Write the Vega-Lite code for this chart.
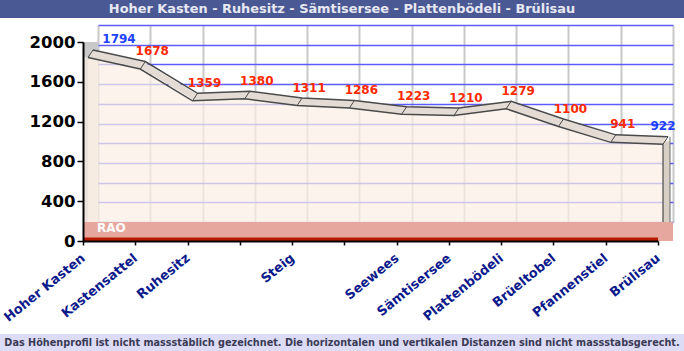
{
  "$schema": "https://vega.github.io/schema/vega-lite/v6.json",
  "padding": 0,
  "background": "white",
  "spacing": 7,
  "config": {"view": {"stroke": null}},
  "datasets": {
    "profil": [
      {"ort": "Hoher Kasten", "hoehe": 1794},
      {"ort": "Kastensattel", "hoehe": 1678},
      {"ort": "Ruhesitz", "hoehe": 1359},
      {"ort": " ", "hoehe": 1380},
      {"ort": "Steig", "hoehe": 1311},
      {"ort": "  ", "hoehe": 1286},
      {"ort": "Seewees", "hoehe": 1223},
      {"ort": "Sämtisersee", "hoehe": 1210},
      {"ort": "Plattenbödeli", "hoehe": 1279},
      {"ort": "Brüeltobel", "hoehe": 1100},
      {"ort": "Pfannenstiel", "hoehe": 941},
      {"ort": "Brülisau", "hoehe": 922}
    ]
  },
  "vconcat": [
    {
      "width": 684,
      "height": 18,
      "view": {"fill": "#4a5894", "stroke": null},
      "data": {"values": [{"t": "Hoher Kasten - Ruhesitz - Sämtisersee - Plattenbödeli - Brülisau"}]},
      "mark": {"type": "text", "font": "DejaVu Sans", "fontWeight": "bold", "fontSize": 12.9, "color": "#e6e8f2", "baseline": "middle", "align": "center"},
      "encoding": {"text": {"field": "t"}}
    },
    {
      "width": 673,
      "height": 216,
      "data": {"name": "profil"},
      "layer": [
        {
          "mark": {"type": "point", "opacity": 0},
          "encoding": {
            "x": {"field": "ort", "type": "ordinal", "sort": null,
                  "scale": {"type": "point", "padding": 0, "range": [98, 673]},
                  "axis": {"orient": "top", "labels": false, "ticks": false, "domain": false, "grid": true, "gridColor": "#c8c8c8", "gridWidth": 2, "title": null}},
            "y": {"field": "hoehe", "type": "quantitative",
                  "scale": {"domain": [0, 2000], "nice": false, "zero": false, "range": [197, 0]},
                  "axis": {"orient": "left", "values": [0, 200, 400, 600, 800, 1000, 1200, 1400, 1600, 1800, 2000], "labels": false, "ticks": false, "domain": false, "grid": true, "gridColor": "#5c5cff", "gridWidth": 1.5, "title": null}}
          }
        },
        {
          "layer": [
            {
              "transform": [{"filter": "datum.ort === 'Hoher Kasten'"}],
              "mark": {"type": "rect", "color": "#c9c9c9", "x2Offset": 15, "yOffset": -5},
              "encoding": {
                "x": {"field": "ort", "type": "ordinal", "sort": null},
                "x2": {"field": "ort"},
                "y": {"field": "hoehe", "type": "quantitative"},
                "y2": {"datum": 2000}
              }
            },
            {
              "transform": [{"filter": "datum.ort === 'Hoher Kasten'"}],
              "mark": {"type": "rect", "color": "#ece4dc", "x2Offset": 15, "yOffset": -5},
              "encoding": {
                "x": {"field": "ort", "type": "ordinal", "sort": null},
                "x2": {"field": "ort"},
                "y": {"field": "hoehe", "type": "quantitative"},
                "y2": {"datum": 0}
              }
            },
            {
              "mark": {"type": "area", "color": "#fbefe4", "opacity": 0.72, "xOffset": 5, "yOffset": -5},
              "encoding": {
                "x": {"field": "ort", "type": "ordinal", "sort": null,
                      "scale": {"type": "point", "padding": 0, "range": [83, 658]},
                      "axis": {"orient": "bottom", "title": null, "grid": false, "domain": true, "domainColor": "black", "domainWidth": 2, "tickColor": "black", "tickWidth": 1.5, "tickSize": 4, "labelAngle": -39, "labelAlign": "right", "labelBaseline": "middle", "labelPadding": 11, "labelFont": "DejaVu Sans", "labelFontWeight": "bold", "labelFontSize": 13, "labelColor": "#0c1a8c", "labelOverlap": false, "labelBound": false, "minExtent": 86, "maxExtent": 86, "zindex": 1}},
                "y": {"field": "hoehe", "type": "quantitative",
                      "scale": {"domain": [0, 2000], "nice": false, "zero": false, "range": [216, 17]},
                      "axis": {"orient": "left", "offset": -83, "title": null, "format": "d", "values": [0, 200, 400, 600, 800, 1000, 1200, 1400, 1600, 1800, 2000], "grid": false, "domain": true, "domainColor": "black", "domainWidth": 2, "tickColor": "black", "tickWidth": 1.5, "tickSize": 6, "labelPadding": 2, "labelFont": "DejaVu Sans", "labelFontWeight": "bold", "labelFontSize": 16.5, "labelColor": "black", "zindex": 1}}
              }
            },
            {
              "transform": [{"filter": "datum.ort === 'Brülisau'"}],
              "mark": {"type": "rect", "color": "#d8cfc7", "xOffset": 5, "x2Offset": 12, "yOffset": -8},
              "encoding": {
                "x": {"field": "ort", "type": "ordinal", "sort": null},
                "x2": {"field": "ort"},
                "y": {"field": "hoehe", "type": "quantitative"},
                "y2": {"datum": 0}
              }
            },
            {
              "mark": {"type": "area", "color": "#e4dcd4", "xOffset": 7.5, "yOffset": -12.5, "y2Offset": -5},
              "encoding": {
                "x": {"field": "ort", "type": "ordinal", "sort": null},
                "y": {"field": "hoehe", "type": "quantitative"},
                "y2": {"field": "hoehe"}
              }
            },
            {
              "mark": {"type": "line", "color": "#4a4a4a", "strokeWidth": 1.5, "xOffset": 10, "yOffset": -12.5},
              "encoding": {
                "x": {"field": "ort", "type": "ordinal", "sort": null},
                "y": {"field": "hoehe", "type": "quantitative"}
              }
            },
            {
              "mark": {"type": "line", "color": "#4a4a4a", "strokeWidth": 1.5, "xOffset": 5, "yOffset": -5},
              "encoding": {
                "x": {"field": "ort", "type": "ordinal", "sort": null},
                "y": {"field": "hoehe", "type": "quantitative"}
              }
            },
            {
              "mark": {"type": "rule", "color": "#4a4a4a", "strokeWidth": 1, "xOffset": 5, "yOffset": -5, "x2Offset": 10, "y2Offset": -12.5},
              "encoding": {
                "x": {"field": "ort", "type": "ordinal", "sort": null},
                "x2": {"field": "ort"},
                "y": {"field": "hoehe", "type": "quantitative"},
                "y2": {"field": "hoehe"}
              }
            },
            {
              "transform": [{"filter": "datum.ort === 'Brülisau'"}],
              "mark": {"type": "rule", "color": "#4a4a4a", "strokeWidth": 1.2, "xOffset": 5, "yOffset": -5},
              "encoding": {
                "x": {"field": "ort", "type": "ordinal", "sort": null},
                "y": {"field": "hoehe", "type": "quantitative"},
                "y2": {"datum": 0}
              }
            },
            {
              "transform": [{"filter": "datum.ort === 'Brülisau'"}],
              "mark": {"type": "rule", "color": "#6a6a6a", "strokeWidth": 1, "xOffset": 12, "yOffset": -12.5},
              "encoding": {
                "x": {"field": "ort", "type": "ordinal", "sort": null},
                "y": {"field": "hoehe", "type": "quantitative"},
                "y2": {"datum": 0}
              }
            },
            {
              "mark": {"type": "area", "color": "#e6a89e", "xOffset": 15},
              "encoding": {
                "x": {"field": "ort", "type": "ordinal", "sort": null},
                "y": {"datum": 190, "type": "quantitative"},
                "y2": {"datum": 0}
              }
            },
            {
              "mark": {"type": "area", "color": "#e6a89e"},
              "encoding": {
                "x": {"field": "ort", "type": "ordinal", "sort": null},
                "y": {"datum": 190, "type": "quantitative"},
                "y2": {"datum": 0}
              }
            },
            {
              "mark": {"type": "area", "color": "#b81a00"},
              "encoding": {
                "x": {"field": "ort", "type": "ordinal", "sort": null},
                "y": {"datum": 35, "type": "quantitative"},
                "y2": {"datum": 0}
              }
            },
            {
              "transform": [{"filter": "datum.ort === 'Hoher Kasten'"}],
              "mark": {"type": "text", "color": "white", "font": "DejaVu Sans", "fontWeight": "bold", "fontSize": 12, "align": "left", "baseline": "alphabetic", "dx": 14, "dy": -9},
              "encoding": {
                "x": {"field": "ort", "type": "ordinal", "sort": null},
                "y": {"datum": 0, "type": "quantitative"},
                "text": {"value": "RAO"}
              }
            },
            {
              "mark": {"type": "text", "font": "DejaVu Sans", "fontWeight": "bold", "fontSize": 12, "align": "center", "baseline": "alphabetic", "dx": {"expr": "datum.ort === 'Brülisau' ? 5 : (datum.ort === 'Hoher Kasten' ? 36 : 17)"}, "dy": -19},
              "encoding": {
                "x": {"field": "ort", "type": "ordinal", "sort": null},
                "y": {"field": "hoehe", "type": "quantitative"},
                "text": {"field": "hoehe", "type": "quantitative"},
                "color": {"condition": {"test": "datum.ort === 'Hoher Kasten' || datum.ort === 'Brülisau'", "value": "#2040ff"}, "value": "#ff2a00"}
              }
            }
          ]
        }
      ],
      "resolve": {"scale": {"x": "independent", "y": "independent"}, "axis": {"x": "independent", "y": "independent"}}
    },
    {
      "width": 684,
      "height": 17,
      "view": {"fill": "#dcdcf6", "stroke": null},
      "data": {"values": [{"t": "Das Höhenprofil ist nicht massstäblich gezeichnet. Die horizontalen und vertikalen Distanzen sind nicht massstabsgerecht."}]},
      "mark": {"type": "text", "font": "DejaVu Sans", "fontWeight": "bold", "fontSize": 9.7, "color": "#3a3a55", "baseline": "middle", "align": "center"},
      "encoding": {"text": {"field": "t"}}
    }
  ]
}
